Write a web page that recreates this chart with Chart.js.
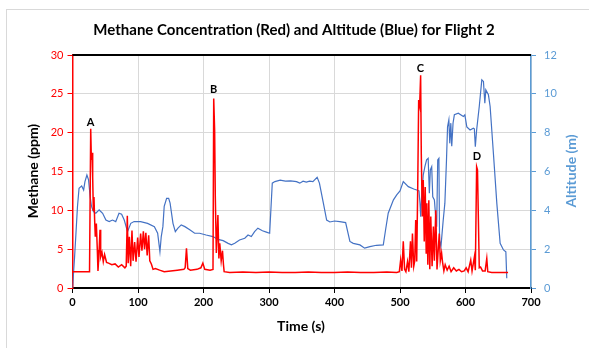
<!DOCTYPE html>
<html>
<head>
<meta charset="utf-8">
<script src="https://cdn.jsdelivr.net/npm/chart.js@4.4.0/dist/chart.umd.min.js"></script>
<style>
  html, body { margin: 0; padding: 0; background: #fff; }
  canvas { display: block; }
</style>
</head>
<body>
<canvas id="flightChart" width="589" height="348"></canvas>
<script>
// Methane readings (ppm) against time (s)
const methaneTime = [0, 26, 27.8, 28.8, 29.8, 30.8, 31.8, 32.8, 33.8, 34.8, 36.4, 37.9, 38.9, 39.9, 41, 42, 43, 45, 47, 49,
  52, 55, 60, 65, 70, 75, 80, 82, 83.7, 85, 86.8, 88.8, 90.8, 92.5, 94.9, 97, 99.5, 101.5, 104, 106,
  108.2, 110, 112, 114, 116.3, 118, 120.4, 123, 126.5, 133, 140, 150, 160, 170, 172, 174, 176, 180, 190, 196,
  199, 202, 210, 214.5, 215.6, 217, 218, 219.6, 222, 223.5, 224.8, 227, 229, 230.5, 231.5, 240, 260, 280, 300, 320,
  340, 360, 380, 400, 420, 440, 460, 480, 495, 499, 501, 503, 505, 507, 509, 511.5, 513.5, 516, 517.5, 519,
  521, 522.5, 524, 525.5, 527, 528.5, 530, 531.5, 532.5, 534, 535.5, 537, 538.5, 540, 541, 542.5, 544, 545.5, 547, 549,
  551, 552.5, 554.6, 556.5, 558.6, 560, 561.5, 563.5, 565, 567, 569, 572, 575, 578, 582, 586, 590, 594, 598, 601,
  604, 608, 610, 613.6, 615, 617, 618.3, 619.7, 621, 623, 626, 630, 632.5, 634, 640, 650, 665];
const methanePpm = [2.1, 2.1, 20.5, 16.5, 17.4, 14.3, 10, 11.7, 8.75, 6.6, 8.3, 4.9, 2.2, 3.6, 5.5, 7.5, 4, 4.6, 3.4, 4.3,
  3.3, 3.2, 3.0, 3.1, 2.7, 3.0, 2.6, 2.8, 9.3, 3.2, 6.6, 2.8, 7.4, 3.5, 5.9, 3.4, 6.5, 4.0, 7.0, 4.8,
  7.3, 5.0, 7.1, 4.2, 6.8, 3.5, 3.1, 2.4, 2.5, 2.3, 2.1, 2.2, 2.3, 2.4, 2.6, 5.1, 2.5, 2.3, 2.4, 2.6,
  3.2, 2.4, 2.3, 2.4, 24.4, 20.3, 11.8, 4.5, 9.4, 3.8, 5.75, 3.5, 4.8, 3.0, 2.1, 2.0, 2.05, 2.0, 2.05, 2.0,
  2.0, 2.05, 2.0, 2.0, 2.05, 2.0, 2.0, 2.05, 2.0, 2.1, 3.6, 2.2, 6.0, 2.4, 2.1, 3.4, 2.1, 6.0, 2.6, 7.0,
  2.8, 3.5, 8.75, 3.4, 12.6, 24.2, 23.5, 27.4, 17.3, 9.2, 13.9, 6.0, 13, 4.5, 10.9, 3.0, 11.3, 2.4, 9.2, 2.8,
  7.9, 3.5, 10, 2.4, 5.3, 7.0, 3.5, 4.5, 3.3, 2.2, 3.0, 2.3, 2.8, 2.1, 2.6, 2.2, 2.4, 2.1, 2.2, 2.6,
  2.1, 3.6, 2.2, 4.0, 2.3, 15.6, 15.2, 8.75, 2.6, 2.7, 2.2, 2.2, 3.8, 2.1, 2.0, 2.0, 2.0];

// Altitude (m) against time (s)
const altTime = [0, 3, 5, 7.6, 10, 14, 17, 19, 22, 24.5, 27, 29, 32, 35.6, 40.7, 46, 51, 56, 61, 66,
  71, 75, 79, 84, 89, 94, 104, 114.6, 125, 130, 133.5, 135.5, 138, 140, 143.7, 146.8, 149, 153.4, 157, 161,
  166, 171.6, 179, 186.5, 194, 204, 214.5, 222, 230, 237.6, 242.6, 247.7, 255, 263, 268, 273, 278, 283, 290, 296,
  301, 305, 309, 317, 325, 333, 342, 347, 352, 357, 362, 367, 373.5, 377, 383, 388, 393, 400, 408, 417,
  423.5, 428.6, 438.8, 446, 454, 464, 474.5, 478, 482, 490, 495, 500, 505, 512.7, 521, 525.5, 529, 530.5, 531.6, 533,
  535.5, 538, 540.6, 543, 544.8, 546.3, 548.4, 550, 552.5, 554.5, 556, 557.6, 559.4, 560.4, 562.5, 566, 568.5, 571, 572.6, 574.6,
  576, 577.6, 579, 581, 583, 589, 596.7, 599, 602, 607, 612, 613.5, 615, 617, 621, 624.9, 627.4, 629.5, 631, 635,
  637.6, 642.6, 647.8, 652.9, 658, 661.6, 663];
const altMetres = [0, 1.5, 2.65, 4.2, 5.14, 5.26, 5.05, 5.48, 5.82, 5.57, 4.7, 4.2, 3.93, 3.85, 4.02, 3.85, 3.5, 3.42, 3.5, 3.42,
  3.85, 3.8, 3.5, 2.9, 3.33, 3.42, 3.42, 3.33, 3.16, 2.82, 1.87, 2.65, 3.16, 4.2, 4.62, 4.62, 4.37, 3.33, 2.9, 3.08,
  3.25, 3.16, 3.0, 2.82, 2.82, 2.73, 2.65, 2.5, 2.44, 2.3, 2.22, 2.3, 2.47, 2.56, 2.73, 2.65, 2.9, 3.08, 2.95, 2.88,
  2.82, 5.4, 5.48, 5.55, 5.5, 5.52, 5.48, 5.4, 5.5, 5.45, 5.5, 5.48, 5.7, 5.4, 4.37, 3.5, 3.4, 3.45, 3.42, 3.37,
  2.4, 2.3, 2.22, 2.05, 2.13, 2.2, 2.22, 3.0, 3.85, 4.54, 4.8, 5.0, 5.48, 5.22, 5.1, 5.05, 5.0, 4.37, 3.67, 4.7,
  5.82, 6.25, 6.6, 6.68, 4.88, 6.08, 6.25, 4.7, 4.54, 3.67, 3.16, 6.6, 6.68, 2.47, 2.13, 3.5, 4.37, 6.6, 8.3, 8.66,
  7.45, 8.49, 7.3, 8.5, 8.92, 9.0, 8.83, 8.92, 8.3, 8.14, 8.23, 8.2, 7.28, 8.14, 9.35, 10.72, 10.64, 9.52, 10.2, 9.95,
  9.35, 6.94, 4.37, 2.3, 1.96, 1.87, 0.5];

// Peak labels
const peakText = ['A', 'B', 'C', 'D'];
const peakTime = [27.5, 215.5, 531, 617.5];
const peakPpm = [21.3, 25.5, 28.3, 16.9];

const RED = '#FF0000';
const BLUE = '#4472C4';
const LIGHT_BLUE = '#5B9BD5';
const GRID = '#D9D9D9';
const FONT = 'Lato, "Open Sans", sans-serif';

const methanePoints = methaneTime.map((t, i) => ({ x: t, y: methanePpm[i] }));
const altPoints = altTime.map((t, i) => ({ x: t, y: altMetres[i] }));

const decorations = {
  id: 'decorations',
  beforeDraw(chart) {
    const ctx = chart.ctx;
    ctx.save();
    ctx.fillStyle = '#fff';
    ctx.fillRect(0, 0, chart.width, chart.height);
    ctx.strokeStyle = GRID;
    ctx.lineWidth = 1;
    ctx.strokeRect(6.5, 9.5, 700, 500);
    ctx.restore();
  },
  afterDraw(chart) {
    const { ctx, chartArea } = chart;
    const xs = chart.scales.x, ys = chart.scales.y;
    ctx.save();
    // top frame line
    ctx.strokeStyle = '#000';
    ctx.lineWidth = 2;
    ctx.beginPath();
    ctx.moveTo(chartArea.left, chartArea.top);
    ctx.lineTo(chartArea.right, chartArea.top);
    ctx.stroke();

    ctx.textAlign = 'center';
    ctx.textBaseline = 'middle';
    ctx.fillStyle = '#000';
    ctx.font = 'bold 15px ' + FONT;
    ctx.fillText('Methane Concentration (Red) and Altitude (Blue) for Flight 2', 294, 30);

    ctx.font = 'bold 14px ' + FONT;
    ctx.fillText('Time (s)', 301, 326);

    ctx.save();
    ctx.translate(33, 171);
    ctx.rotate(-Math.PI / 2);
    ctx.fillText('Methane (ppm)', 0, 0);
    ctx.restore();

    ctx.save();
    ctx.translate(571, 171);
    ctx.rotate(-Math.PI / 2);
    ctx.fillStyle = LIGHT_BLUE;
    ctx.font = 'bold 14px ' + FONT;
    ctx.fillText('Altitude (m)', 0, 0);
    ctx.restore();

    // peak letters
    ctx.font = 'bold 11px ' + FONT;
    peakText.forEach((txt, i) => {
      ctx.fillText(txt, xs.getPixelForValue(peakTime[i]), ys.getPixelForValue(peakPpm[i]));
    });
    ctx.restore();
  }
};

new Chart(document.getElementById('flightChart'), {
  type: 'line',
  data: {
    datasets: [
      {
        label: 'Altitude',
        data: altPoints,
        yAxisID: 'y1',
        borderColor: BLUE,
        borderWidth: 1.2,
        pointRadius: 0,
        tension: 0,
        order: 2
      },
      {
        label: 'Methane',
        data: methanePoints,
        yAxisID: 'y',
        borderColor: RED,
        borderWidth: 1.5,
        pointRadius: 0,
        tension: 0,
        order: 1
      }
    ]
  },
  options: {
    responsive: false,
    animation: false,
    devicePixelRatio: 1,
    layout: { padding: { top: 55, left: 0, right: 0, bottom: 0 } },
    plugins: {
      legend: { display: false },
      tooltip: { enabled: false }
    },
    scales: {
      x: {
        type: 'linear',
        min: 0,
        max: 700,
        afterFit: s => { s.height = 60; },
        ticks: { stepSize: 100, color: '#000', font: { family: FONT, size: 11, weight: 'bold' }, padding: 3, maxRotation: 0 },
        grid: { color: GRID, tickColor: '#000', tickLength: 5 },
        border: { color: '#000', width: 2 }
      },
      y: {
        position: 'left',
        min: 0,
        max: 30,
        afterFit: s => { s.width = 72.5; },
        ticks: { stepSize: 5, color: RED, font: { family: FONT, size: 11 }, padding: 4 },
        grid: { color: GRID, tickColor: RED, tickLength: 5 },
        border: { color: RED, width: 1.5 }
      },
      y1: {
        position: 'right',
        min: 0,
        max: 12,
        afterFit: s => { s.width = 58; },
        ticks: { stepSize: 2, color: LIGHT_BLUE, font: { family: FONT, size: 11 }, padding: 8 },
        grid: { drawOnChartArea: false, tickColor: LIGHT_BLUE, tickLength: 5 },
        border: { color: LIGHT_BLUE, width: 1.5 }
      }
    }
  },
  plugins: [decorations]
});
</script>
</body>
</html>
